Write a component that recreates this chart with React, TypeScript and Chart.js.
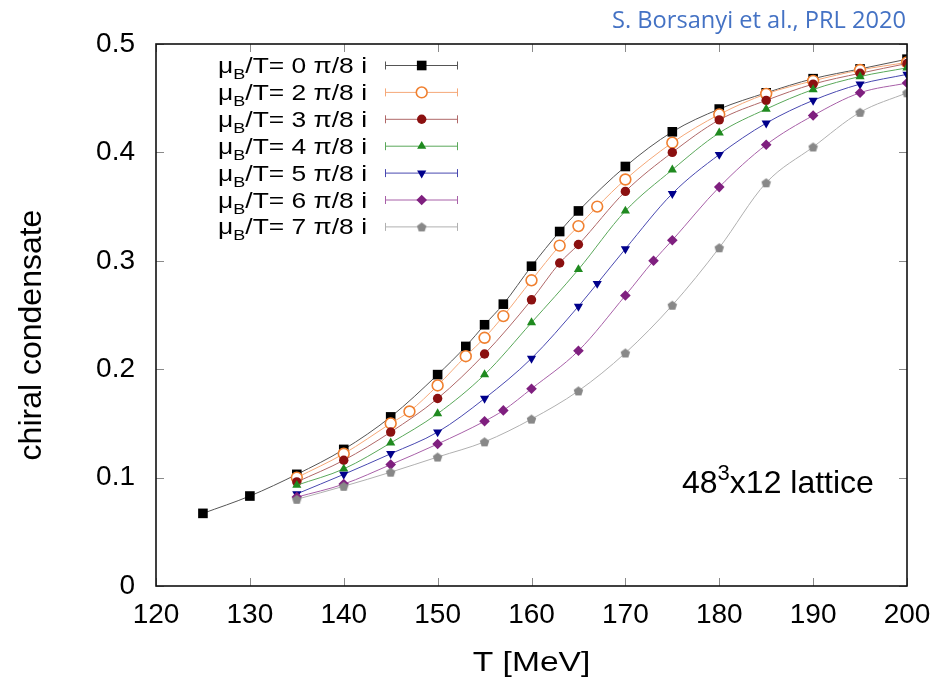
import React, { useEffect, useRef } from 'react';
import { Chart, registerables } from 'chart.js';
import { drawPoint } from 'chart.js/helpers';
Chart.register(...registerables);

// Temperatures (MeV) and chiral condensate for each mu_B/T = k pi/8 i
const T0 = [125, 130, 135, 140, 145, 150, 153, 155, 157, 160, 163, 165, 170, 175, 180, 185, 190, 195, 200];
const C0 = [0.067, 0.083, 0.103, 0.126, 0.156, 0.195, 0.221, 0.241, 0.260, 0.295, 0.327, 0.346, 0.387, 0.419, 0.440, 0.455, 0.468, 0.477, 0.486];
const T2 = [135, 140, 145, 147, 150, 153, 155, 157, 160, 163, 165, 167, 170, 175, 180, 185, 190, 195, 200];
const C2 = [0.100, 0.122, 0.150, 0.161, 0.185, 0.212, 0.229, 0.249, 0.282, 0.314, 0.332, 0.350, 0.375, 0.409, 0.435, 0.454, 0.466, 0.476, 0.483];
const T3 = [135, 140, 145, 150, 155, 160, 163, 165, 170, 175, 180, 185, 190, 195, 200];
const C3 = [0.096, 0.116, 0.142, 0.173, 0.214, 0.264, 0.298, 0.315, 0.364, 0.400, 0.430, 0.448, 0.463, 0.473, 0.482];
const T4 = [135, 140, 145, 150, 155, 160, 165, 170, 175, 180, 185, 190, 195, 200];
const C4 = [0.093, 0.108, 0.132, 0.159, 0.195, 0.243, 0.292, 0.346, 0.384, 0.418, 0.440, 0.458, 0.470, 0.478];
const T5 = [135, 140, 145, 150, 155, 160, 165, 167, 170, 175, 180, 185, 190, 195, 200];
const C5 = [0.085, 0.103, 0.122, 0.142, 0.173, 0.210, 0.258, 0.279, 0.311, 0.362, 0.398, 0.427, 0.448, 0.463, 0.472];
const T6 = [135, 140, 145, 150, 155, 157, 160, 165, 170, 173, 175, 180, 185, 190, 195, 200];
const C6 = [0.082, 0.094, 0.112, 0.131, 0.152, 0.162, 0.182, 0.217, 0.268, 0.300, 0.319, 0.368, 0.407, 0.434, 0.455, 0.464];
const T7 = [135, 140, 145, 150, 155, 160, 165, 170, 175, 180, 185, 190, 195, 200];
const C7 = [0.080, 0.092, 0.105, 0.119, 0.133, 0.154, 0.180, 0.215, 0.259, 0.312, 0.372, 0.405, 0.437, 0.455];

const SERIES_K = ['0', '2', '3', '4', '5', '6', '7'];
const SERIES_T = [T0, T2, T3, T4, T5, T6, T7];
const SERIES_C = [C0, C2, C3, C4, C5, C6, C7];

const X_MIN = 120, X_MAX = 200, X_STEP = 10;
const Y_MIN = 0, Y_MAX = 0.5, Y_STEP = 0.1;

const Y_TITLE = 'chiral condensate';
const X_TITLE = 'T [MeV]';
const SOURCE = 'S. Borsanyi et al., PRL 2020';

const MARKER_COLORS = ['#000000', '#f08030', '#8b1010', '#1f8a1f', '#00008b', '#7f1f7f', '#888888'];
const LINE_COLORS = ['#555555', '#f5a878', '#b06868', '#5aa85a', '#4848b0', '#a860a8', '#b0b0b0'];

const FONT = '"Liberation Sans", Arial, Helvetica, sans-serif';

function makePentagon(color: string, size: number) {
  const c = document.createElement('canvas');
  c.width = size;
  c.height = size;
  const ctx = c.getContext('2d')!;
  const r = size / 2 - 0.5;
  ctx.beginPath();
  for (let i = 0; i < 5; i++) {
    const a = -Math.PI / 2 + (i * 2 * Math.PI) / 5;
    const px = size / 2 + r * Math.cos(a);
    const py = size / 2 + 0.5 + r * Math.sin(a);
    if (i === 0) ctx.moveTo(px, py); else ctx.lineTo(px, py);
  }
  ctx.closePath();
  ctx.fillStyle = color;
  ctx.fill();
  return c;
}

// draw text with horizontal stretch sx, anchored at (x, y)
function stretchedText(ctx: CanvasRenderingContext2D, text: string, x: number, y: number, sx: number) {
  ctx.save();
  ctx.translate(x, y);
  ctx.scale(sx, 1);
  ctx.fillText(text, 0, 0);
  ctx.restore();
}

export default function App() {
  const ref = useRef<HTMLCanvasElement | null>(null);

  useEffect(() => {
    const canvas = ref.current!;
    const pent = makePentagon(MARKER_COLORS[6], 11);

    const styles: any[] = [
      { pointStyle: 'rect', radius: 6.8, rotation: 0, bg: MARKER_COLORS[0], bw: 0 },
      { pointStyle: 'circle', radius: 5.4, rotation: 0, bg: '#ffffff', bw: 1.6 },
      { pointStyle: 'circle', radius: 4.7, rotation: 0, bg: MARKER_COLORS[2], bw: 0 },
      { pointStyle: 'triangle', radius: 5.3, rotation: 0, bg: MARKER_COLORS[3], bw: 0 },
      { pointStyle: 'triangle', radius: 5.3, rotation: 180, bg: MARKER_COLORS[4], bw: 0 },
      { pointStyle: 'rectRot', radius: 5.3, rotation: 0, bg: MARKER_COLORS[5], bw: 0 },
      { pointStyle: pent, radius: 5.5, rotation: 0, bg: MARKER_COLORS[6], bw: 0 },
    ];

    const datasets = SERIES_T.map((ts, i) => ({
      label: 'k' + SERIES_K[i],
      data: ts.map((t, j) => ({ x: t, y: SERIES_C[i][j] })),
      borderColor: LINE_COLORS[i],
      borderWidth: 1,
      pointStyle: styles[i].pointStyle,
      pointRadius: styles[i].radius,
      pointRotation: styles[i].rotation,
      pointBackgroundColor: styles[i].bg,
      pointBorderColor: MARKER_COLORS[i],
      pointBorderWidth: styles[i].bw,
      cubicInterpolationMode: 'monotone',
      fill: false,
      order: 6 - i,
    }));

    const SX = 1.2;

    const decor = {
      id: 'decor',
      afterDraw(chart: any) {
        const ctx = chart.ctx as CanvasRenderingContext2D;
        const a = chart.chartArea;
        const xs = chart.scales.x;
        const ys = chart.scales.y;
        ctx.save();
        // inward ticks (mirrored)
        ctx.strokeStyle = '#8a8a8a';
        ctx.lineWidth = 1;
        const tl = 8;
        for (let v = X_MIN; v <= X_MAX + 1e-9; v += X_STEP) {
          const px = Math.round(xs.getPixelForValue(v)) + 0.5;
          ctx.beginPath();
          ctx.moveTo(px, a.bottom); ctx.lineTo(px, a.bottom - tl);
          ctx.moveTo(px, a.top); ctx.lineTo(px, a.top + tl);
          ctx.stroke();
        }
        for (let k = 0; k <= Math.round((Y_MAX - Y_MIN) / Y_STEP); k++) {
          const v = Y_MIN + k * Y_STEP;
          const py = Math.round(ys.getPixelForValue(v)) + 0.5;
          ctx.beginPath();
          ctx.moveTo(a.left, py); ctx.lineTo(a.left + tl, py);
          ctx.moveTo(a.right, py); ctx.lineTo(a.right - tl, py);
          ctx.stroke();
        }
        // frame
        ctx.strokeStyle = '#111';
        ctx.lineWidth = 1.6;
        ctx.strokeRect(a.left, a.top, a.right - a.left, a.bottom - a.top);

        // legend
        const legRight = 367;
        const legTop = 65;
        const legStep = 26.9;
        ctx.textBaseline = 'alphabetic';
        ctx.textAlign = 'left';
        for (let i = 0; i < SERIES_K.length; i++) {
          const yc = legTop + i * legStep;
          const base = yc + 8;
          const mainFont = `22px ${FONT}`;
          const subFont = `15px ${FONT}`;
          const rest = `/T= ${SERIES_K[i]} \u03c0/8 i`;
          ctx.font = mainFont;
          const wMu = ctx.measureText('\u03bc').width * SX;
          const wRest = ctx.measureText(rest).width * SX;
          ctx.font = subFont;
          const wB = ctx.measureText('B').width * SX;
          let x = legRight - (wMu + wB + wRest);
          ctx.fillStyle = '#000';
          ctx.font = mainFont;
          stretchedText(ctx, '\u03bc', x, base, SX);
          x += wMu;
          ctx.font = subFont;
          stretchedText(ctx, 'B', x, base + 6, SX);
          x += wB;
          ctx.font = mainFont;
          stretchedText(ctx, rest, x, base, SX);

          // sample: error bar with caps + marker
          const x1 = 385, x2 = 458, xm = 421.7;
          ctx.strokeStyle = LINE_COLORS[i];
          ctx.lineWidth = 1;
          ctx.beginPath();
          ctx.moveTo(x1, yc + 0.5); ctx.lineTo(x2, yc + 0.5);
          ctx.moveTo(x1 + 0.5, yc - 3.5); ctx.lineTo(x1 + 0.5, yc + 4.5);
          ctx.moveTo(x2 - 0.5, yc - 3.5); ctx.lineTo(x2 - 0.5, yc + 4.5);
          ctx.stroke();
          ctx.fillStyle = styles[i].bg;
          ctx.strokeStyle = MARKER_COLORS[i];
          ctx.lineWidth = styles[i].bw;
          drawPoint(ctx, {
            pointStyle: styles[i].pointStyle,
            rotation: styles[i].rotation,
            radius: styles[i].radius,
            borderWidth: styles[i].bw,
          } as any, xm, yc + 0.5);
        }

        // lattice annotation
        ctx.fillStyle = '#000';
        ctx.textAlign = 'left';
        let lx = 682;
        const lb = 493;
        ctx.font = `32px ${FONT}`;
        ctx.fillText('48', lx, lb);
        lx += ctx.measureText('48').width;
        ctx.font = `22px ${FONT}`;
        ctx.fillText('3', lx, lb - 13);
        lx += ctx.measureText('3').width;
        ctx.font = `32px ${FONT}`;
        ctx.fillText('x12 lattice', lx, lb);

        // axis titles
        ctx.font = `28px ${FONT}`;
        ctx.textAlign = 'center';
        ctx.textBaseline = 'middle';
        stretchedText(ctx, X_TITLE, (a.left + a.right) / 2, 663, SX);
        ctx.save();
        ctx.translate(32, 335);
        ctx.rotate(-Math.PI / 2);
        ctx.font = `32px ${FONT}`;
        ctx.fillText(Y_TITLE, 0, 0);
        ctx.restore();

        // source (narrow, Calibri-like proportions)
        const sf = '"Open Sans", "Noto Sans", sans-serif';
        ctx.font = `24px ${sf}`;
        const wFull = ctx.measureText(SOURCE).width;
        const ssx = 294 / wFull;
        ctx.fillStyle = '#4472c4';
        ctx.textAlign = 'left';
        ctx.textBaseline = 'alphabetic';
        stretchedText(ctx, SOURCE, 906 - 294, 28, ssx);
        ctx.restore();
      },
    };

    const chart = new Chart(canvas, {
      type: 'line',
      data: { datasets: datasets as any },
      options: {
        responsive: false,
        animation: false,
        devicePixelRatio: 1,
        layout: { padding: { top: 44, right: 36, left: 0, bottom: 0 } },
        plugins: { legend: { display: false }, tooltip: { enabled: false }, title: { display: false } },
        scales: {
          x: {
            type: 'linear',
            min: X_MIN,
            max: X_MAX,
            grid: { display: false, drawTicks: false },
            border: { display: false },
            ticks: {
              stepSize: X_STEP,
              autoSkip: false,
              maxRotation: 0,
              padding: 12,
              color: '#000',
              font: { family: FONT, size: 28 },
              callback: (v: any) => String(Math.round(Number(v))),
            },
            afterFit: (s: any) => { s.height = 98; },
          },
          y: {
            type: 'linear',
            min: Y_MIN,
            max: Y_MAX,
            grid: { display: false, drawTicks: false },
            border: { display: false },
            ticks: {
              stepSize: Y_STEP,
              padding: 21,
              color: '#000',
              font: { family: FONT, size: 28 },
              callback: (v: any) => { const n = Number(v); return Math.abs(n) < 1e-9 ? '0' : n.toFixed(1); },
            },
            afterFit: (s: any) => { s.width = 156; },
          },
        },
      },
      plugins: [decor],
    });
    return () => chart.destroy();
  }, []);

  return (
    <div style={{ position: 'absolute', left: 0, top: 0, width: 943, height: 684, background: '#fff' }}>
      <canvas ref={ref} width={943} height={684} style={{ display: 'block', width: 943, height: 684 }} />
    </div>
  );
}
